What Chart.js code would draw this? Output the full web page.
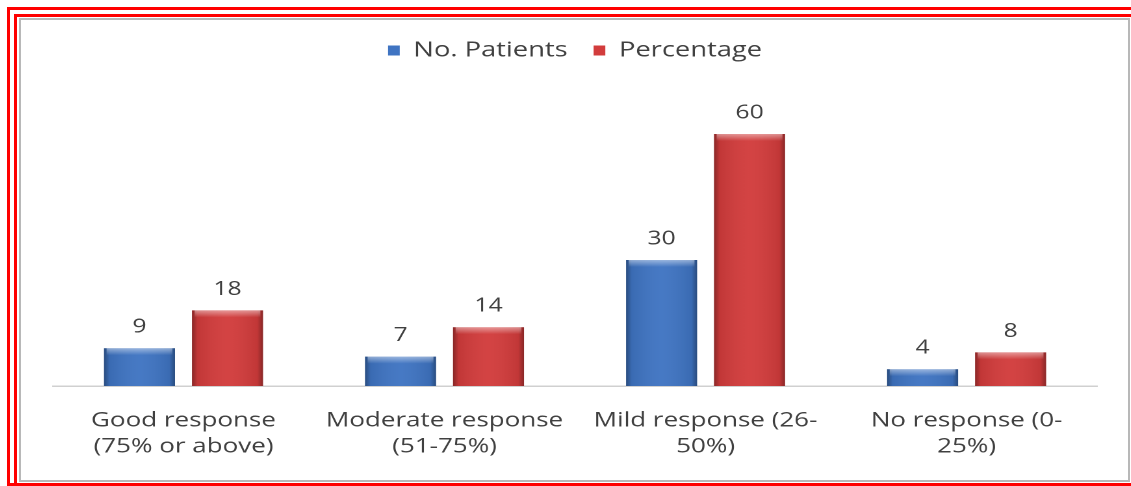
<!DOCTYPE html>
<html>
<head>
<meta charset="utf-8">
<script src="https://cdn.jsdelivr.net/npm/chart.js@4/dist/chart.umd.min.js"></script>
<style>
  html, body { margin: 0; padding: 0; background: #ffffff; }
  body { width: 1131px; height: 486px; position: relative; overflow: hidden; }
  .rule { position: absolute; background: #ff0000; }
  .frame { position: absolute; left: 19px; top: 18px; width: 1107px; height: 460px;
           border: 2px solid #b8b8b8; background: #ffffff; }
  .stretch { position: absolute; left: 21px; top: 20px; width: 851px; height: 459px;
             transform-origin: 0 0; }
</style>
</head>
<body>
<div class="rule" style="left:7px; top:7px; width:1124px; height:3px;"></div>
<div class="rule" style="left:7px; top:7px; width:3px; height:479px;"></div>
<div class="rule" style="left:14px; top:14px; width:1117px; height:3px;"></div>
<div class="rule" style="left:14px; top:14px; width:3px; height:472px;"></div>
<div class="rule" style="left:7px; top:483px; width:1124px; height:3px;"></div>
<div class="frame"></div>
<div class="stretch" id="wrap"><canvas id="chart" width="851" height="459"></canvas></div>
<script>
// Response categories (two-line axis labels)
const categories = [
  ["Good response", "(75% or above)"],
  ["Moderate response", "(51-75%)"],
  ["Mild response (26-", "50%)"],
  ["No response (0-", "25%)"]
];
const seriesNames = ["No. Patients", "Percentage"];
const patients = [9, 7, 30, 4];
const percentage = [18, 14, 60, 8];

// Horizontal stretch applied to the whole canvas (wide type face look)
const SX = 1106 / 851;
document.getElementById('wrap').style.transform = 'scaleX(' + SX + ')';

const labelColor = '#404040';
const fontFamily = '"Open Sans", "DejaVu Sans", sans-serif';

// Bevelled look for the bars: dark side edges and a light top rim
const bevelPlugin = {
  id: 'bevel',
  afterDatasetsDraw(chart) {
    const ctx = chart.ctx;
    chart.data.datasets.forEach((ds, di) => {
      const meta = chart.getDatasetMeta(di);
      meta.data.forEach(bar => {
        const w = bar.width;
        const left = bar.x - w / 2;
        const top = Math.min(bar.y, bar.base);
        const h = Math.abs(bar.base - bar.y);
        ctx.save();
        const g = ctx.createLinearGradient(left, 0, left + w, 0);
        g.addColorStop(0, 'rgba(0,0,0,0.35)');
        g.addColorStop(0.08, 'rgba(0,0,0,0.08)');
        g.addColorStop(0.5, 'rgba(255,255,255,0.04)');
        g.addColorStop(0.92, 'rgba(0,0,0,0.08)');
        g.addColorStop(1, 'rgba(0,0,0,0.35)');
        ctx.fillStyle = g;
        ctx.fillRect(left, top, w, h);
        const rim = Math.min(7, h);
        const t = ctx.createLinearGradient(0, top, 0, top + rim);
        t.addColorStop(0, 'rgba(255,255,255,0.45)');
        t.addColorStop(1, 'rgba(255,255,255,0)');
        ctx.fillStyle = t;
        ctx.fillRect(left + 2, top, w - 4, rim);
        ctx.restore();
      });
    });
  }
};

// Value printed above each bar
const valueLabelPlugin = {
  id: 'valueLabels',
  afterDatasetsDraw(chart) {
    const ctx = chart.ctx;
    ctx.save();
    ctx.font = '19px ' + fontFamily;
    ctx.fillStyle = labelColor;
    ctx.textAlign = 'center';
    ctx.textBaseline = 'middle';
    chart.data.datasets.forEach((ds, di) => {
      const meta = chart.getDatasetMeta(di);
      meta.data.forEach((bar, i) => {
        ctx.fillText(String(ds.data[i]), bar.x, bar.y - 21);
      });
    });
    ctx.restore();
  }
};

new Chart(document.getElementById('chart'), {
  type: 'bar',
  data: {
    labels: categories,
    datasets: [
      { label: seriesNames[0], data: patients, backgroundColor: '#3f74c2' },
      { label: seriesNames[1], data: percentage, backgroundColor: '#d23c3c' }
    ]
  },
  options: {
    responsive: false,
    animation: false,
    devicePixelRatio: 2,
    layout: { padding: { left: 24.6, right: 23, top: 0, bottom: 0 } },
    datasets: { bar: { categoryPercentage: 0.674, barPercentage: 0.807 } },
    plugins: {
      legend: {
        position: 'top',
        labels: {
          boxWidth: 9,
          boxHeight: 10,
          padding: 20,
          color: labelColor,
          font: { family: fontFamily, size: 21 }
        }
      },
      tooltip: { enabled: false }
    },
    scales: {
      x: {
        grid: { display: false, drawTicks: false },
        border: { display: true, color: '#d0d0d0', width: 1.5 },
        ticks: {
          color: labelColor,
          padding: 22,
          maxRotation: 0,
          autoSkip: false,
          font: { family: fontFamily, size: 20, lineHeight: 1.3 }
        },
        afterFit(scale) { scale.height = 93; }
      },
      y: {
        display: false,
        min: 0,
        max: 75
      }
    }
  },
  plugins: [bevelPlugin, valueLabelPlugin]
});
</script>
</body>
</html>
